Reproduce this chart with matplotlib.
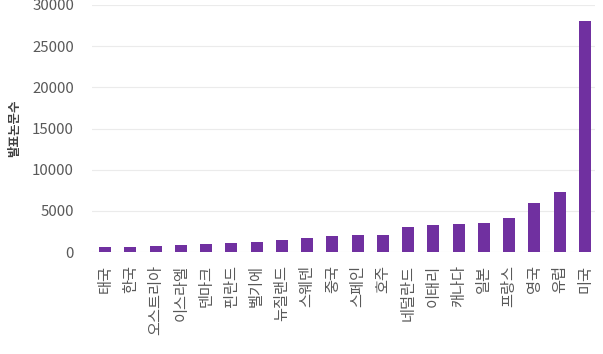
import matplotlib
matplotlib.use('Agg')
from matplotlib import pyplot as plt

plt.rcParams['font.family'] = ['Noto Sans CJK KR', 'DejaVu Sans']

countries = ['태국', '한국', '오스트리아', '이스라엘', '덴마크', '핀란드', '벨기에', '뉴질랜드', '스웨덴', '중국',
             '스페인', '호주', '네덜란드', '이태리', '캐나다', '일본', '프랑스', '영국', '유럽', '미국']
papers = [560, 640, 730, 800, 960, 1040, 1160, 1500, 1740, 1940,
          2020, 2020, 3080, 3240, 3360, 3490, 4090, 5920, 7330, 28070]
yticks = [0, 5000, 10000, 15000, 20000, 25000, 30000]

fig = plt.figure(figsize=(6.03, 3.54), dpi=100)
ax = fig.add_axes([0.1526, 0.288, 0.834, 0.698])

ax.bar(range(len(countries)), papers, width=0.47, color='#7030A0', zorder=3)

ax.set_ylim(0, 30000)
ax.set_xlim(-0.52, 19.4)
ax.set_yticks(yticks)
ax.set_yticklabels([str(t) for t in yticks])
ax.set_xticks(range(len(countries)))
ax.set_xticklabels(countries, rotation=90, va='top', ha='center')
ax.tick_params(axis='y', length=0, pad=13, labelsize=10.8, labelcolor='#595959')
ax.tick_params(axis='x', length=0, pad=9, labelsize=11, labelcolor='#595959')
ax.grid(axis='y', color='#ebebeb', linewidth=0.8, zorder=0)
for s in ax.spines.values():
    s.set_visible(False)
ax.set_ylabel('발표논문수', fontsize=9, fontweight='bold', color='#404040', labelpad=8)

fig.savefig('out.png', dpi=100)
